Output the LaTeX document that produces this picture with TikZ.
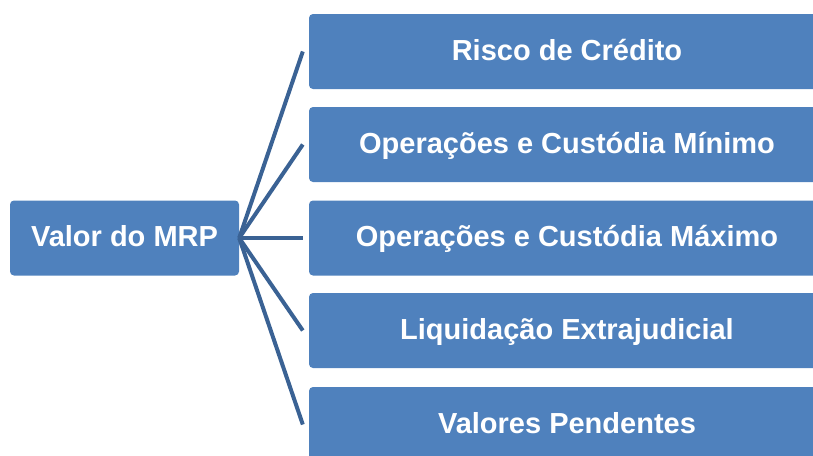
\documentclass[tikz,border=0pt]{standalone}
\usepackage{fontspec}
\setmainfont{Liberation Sans}
\definecolor{boxblue}{RGB}{79,129,189}
\definecolor{lineblue}{RGB}{58,98,148}

\begin{document}
\begin{tikzpicture}[x=1pt,y=-1pt]
\begin{scope}
	\tikzstyle{every node}=[align=center, text=white, font=\bfseries\fontsize{29}{34}\selectfont]
	\tikzstyle{box}=[fill=boxblue, rounded corners=4pt, minimum height=75pt, inner sep=0pt, text height=21pt, text depth=4pt]
	\clip (0,0) rectangle (813,455);
	\node[box, minimum width=229pt] (v) at (124.5,238) {Valor do MRP};
	\node[box, minimum width=516pt] (r1) at (567,51.5) {Risco de Crédito};
	\node[box, minimum width=516pt] (r2) at (567,144.5) {Operações e Custódia Mínimo};
	\node[box, minimum width=516pt] (r3) at (567,238) {Operações e Custódia Máximo};
	\node[box, minimum width=516pt] (r4) at (567,330.5) {Liquidação Extrajudicial};
	\node[box, minimum width=516pt] (r5) at (567,424.5) {Valores Pendentes};

	\coordinate (e1) at ([xshift=-6pt]r1.west);
	\coordinate (e2) at ([xshift=-6pt]r2.west);
	\coordinate (e3) at ([xshift=-6pt]r3.west);
	\coordinate (e4) at ([xshift=-6pt]r4.west);
	\coordinate (e5) at ([xshift=-6pt]r5.west);

	\draw [line width=4pt, lineblue] (v.east) -- (e1);
	\draw [line width=4pt, lineblue] (v.east) -- (e2);
	\draw [line width=4pt, lineblue] (v.east) -- (e3);
	\draw [line width=4pt, lineblue] (v.east) -- (e4);
	\draw [line width=4pt, lineblue] (v.east) -- (e5);
\end{scope}
\end{tikzpicture}
\end{document}
